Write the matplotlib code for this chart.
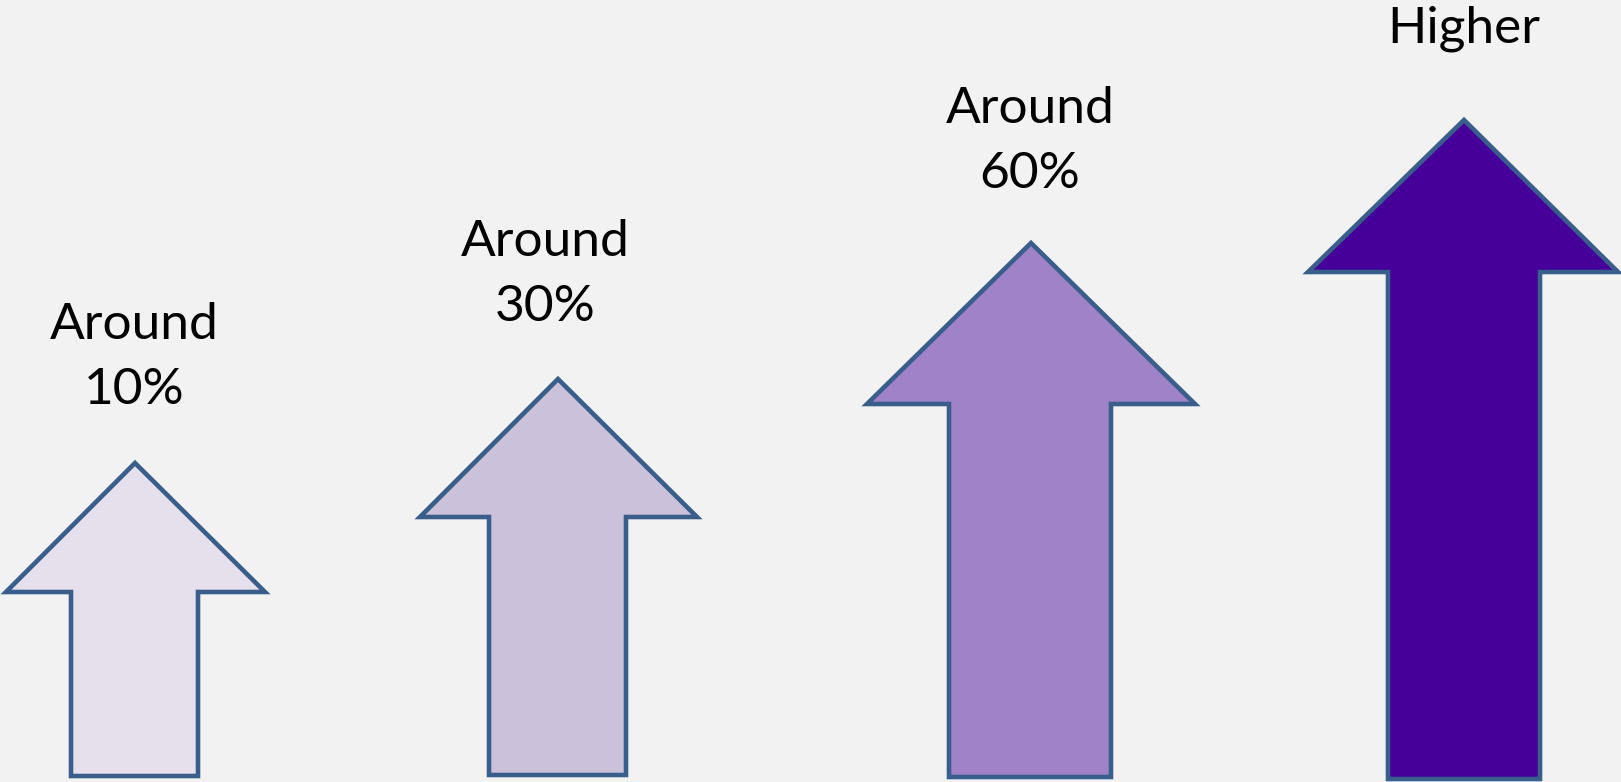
import matplotlib.pyplot as plt
from matplotlib.patches import Polygon

# labels and colours of the four arrows
labels = [["Around", "10%"], ["Around", "30%"], ["Around", "60%"], ["Higher"]]
fills = ["#E5E0EC", "#CCC1DA", "#A082C8", "#45009A"]
edge = "#3A5E8B"

# arrow geometry in pixels (image coords, y down)
tip_x = [135, 558, 1031, 1464]
tip_y = [463, 379, 243, 120]
head_y = [592, 517, 404, 272]
head_l = [6, 420, 867, 1308]
head_r = [265, 697, 1195, 1618]
shaft_l = [71, 489, 949, 1388]
shaft_r = [198, 626, 1111, 1540]
bottom = [776, 775, 777, 779]

# text placement: centre x and baseline of first line
text_x = [134, 545, 1030, 1464]
text_y = [339, 256, 123, 42]
line_gap = 65


def arrow_points(i):
    return [(tip_x[i], tip_y[i]),
            (head_r[i], head_y[i]),
            (shaft_r[i], head_y[i]),
            (shaft_r[i], bottom[i]),
            (shaft_l[i], bottom[i]),
            (shaft_l[i], head_y[i]),
            (head_l[i], head_y[i])]


fig = plt.figure(figsize=(16.21, 7.82), dpi=100)
fig.patch.set_facecolor("#F2F2F2")
ax = fig.add_axes([0, 0, 1, 1])
ax.set_facecolor("#F2F2F2")
ax.set_xlim(0, 1621)
ax.set_ylim(782, 0)
ax.axis("off")

for i in range(len(labels)):
    ax.add_patch(Polygon(arrow_points(i), closed=True, facecolor=fills[i],
                         edgecolor=edge, linewidth=3.3, joinstyle="miter"))
    for k, line in enumerate(labels[i]):
        ax.text(text_x[i], text_y[i] + k * line_gap, line, ha="center",
                va="baseline", fontsize=37, family="Lato", color="black")

fig.savefig("out.png", dpi=100, facecolor=fig.get_facecolor())
